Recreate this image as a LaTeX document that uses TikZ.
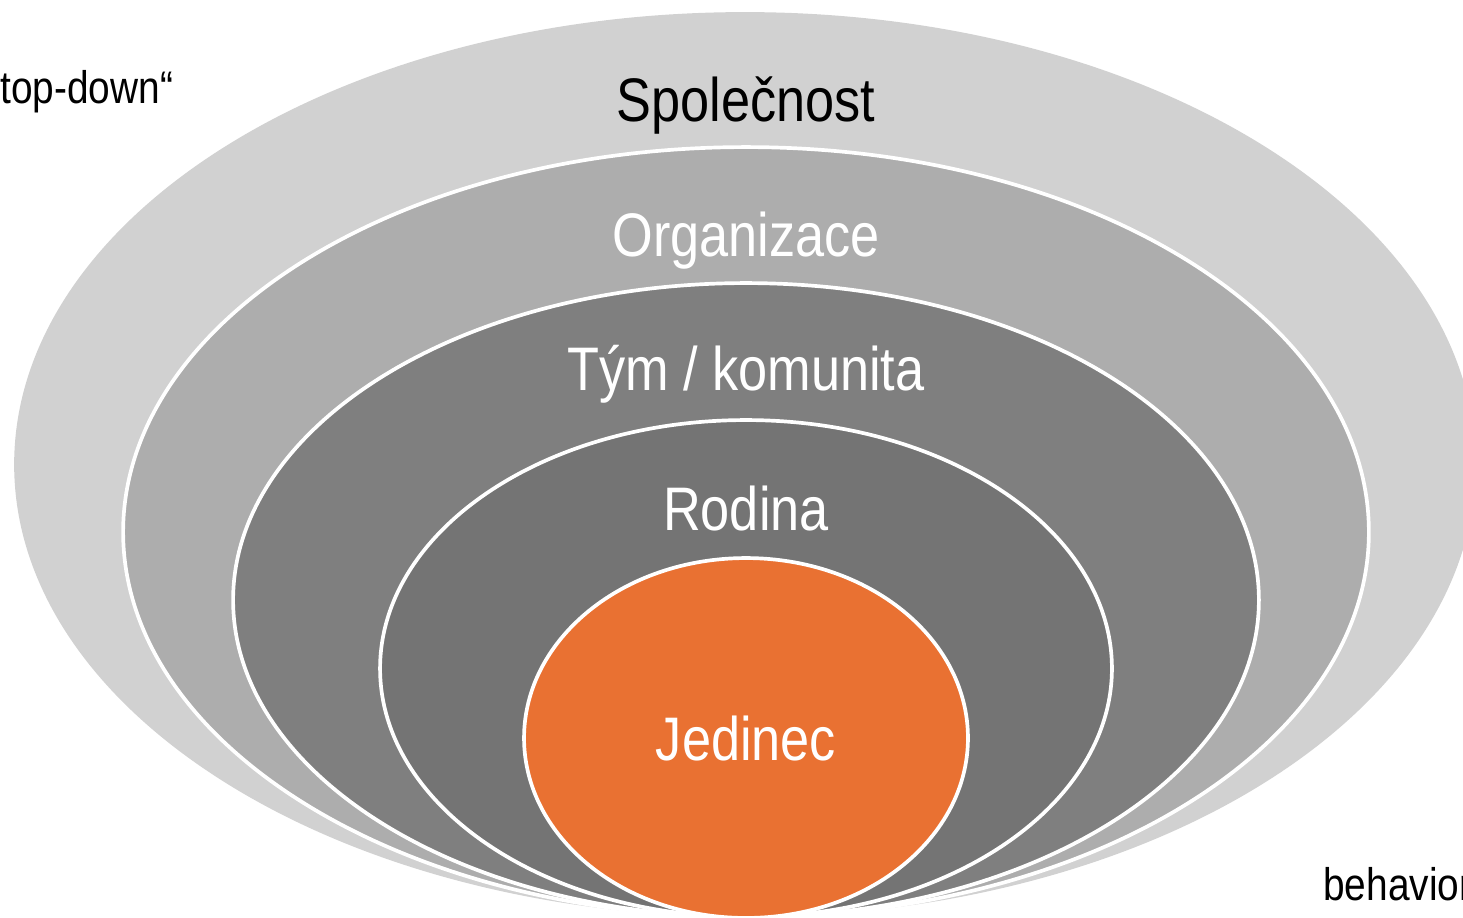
\documentclass[tikz,border=0pt]{standalone}
\usepackage{fontspec}
\setmainfont{Liberation Sans}[FakeStretch=0.85]
\usepackage{xcolor}
\definecolor{colora}{RGB}{233,113,50}
\definecolor{levela}{RGB}{209,209,209}
\definecolor{levelb}{RGB}{173,173,173}
\definecolor{levelc}{RGB}{127,127,127}
\definecolor{leveld}{RGB}{116,116,116}
\usepackage{tikz}

\begin{document}
\begin{tikzpicture}[x=0.02cm,y=-0.02cm,ring/.style={draw=white,line width=2.1pt},label/.style={anchor=base,inner sep=0pt,font=\fontsize{35}{40}\selectfont},side/.style={inner sep=0pt,font=\fontsize{26}{30}\selectfont}]
  \useasboundingbox (0,0) rectangle (1463,917);
  % The ellipses, outer to inner:
  \fill[levela] (745,464.5) ellipse [x radius=14.62cm, y radius=9.05cm];
  \foreach \cy/\rx/\ry/\col in {532/12.46/7.70/levelb,600/10.26/6.34/levelc,668.5/7.32/4.97/leveld,738/4.44/3.60/colora} {
    \filldraw[ring,fill=\col] (746,\cy) ellipse [x radius=\rx cm, y radius=\ry cm];
  }
  % The labels:
  \node[label] (spolecnost) at (746,121) {Společnost};
  \node[label,white] (organizace) at (746,256) {Organizace};
  \node[label,white] (tym) at (746,390) {Tým / komunita};
  \node[label,white] (rodina) at (746,530) {Rodina};
  \node[label,white] (jedinec) at (746,760) {Jedinec};
  \node[side,anchor=base west] (topdown) at (0,103) {top-down“};
  \node[side,anchor=base west] (behavior) at (1323,900) {behavior};
\end{tikzpicture}
\end{document}
